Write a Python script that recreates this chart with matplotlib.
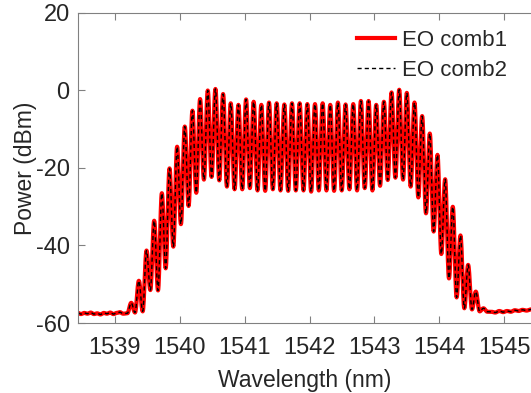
import numpy as np
import matplotlib
matplotlib.use("Agg")
import matplotlib.pyplot as plt

plt.rcParams['font.family'] = ['Liberation Sans', 'DejaVu Sans']
plt.rcParams['axes.unicode_minus'] = False

# ---- data ----
# comb line (peak) wavelengths in nm
line_wl = [1539.254, 1539.372, 1539.490, 1539.608, 1539.726, 1539.844, 1539.961,
           1540.079, 1540.197, 1540.315, 1540.433, 1540.551, 1540.669, 1540.787,
           1540.905, 1541.023, 1541.140, 1541.258, 1541.376, 1541.494, 1541.612,
           1541.730, 1541.848, 1541.966, 1542.084, 1542.202, 1542.319, 1542.437,
           1542.555, 1542.673, 1542.791, 1542.909, 1543.027, 1543.145, 1543.263,
           1543.381, 1543.498, 1543.616, 1543.734, 1543.852, 1543.970, 1544.088,
           1544.206, 1544.324, 1544.442, 1544.560, 1544.678]
# EO comb1 peak powers (dBm)
comb1_peak = [-54.8, -49.1, -41.3, -33.6, -26.5, -20.1, -14.5, -9.3, -5.2, -2.2,
              0.0, 0.4, -0.9, -3.3, -3.7, -2.3, -2.9, -3.7, -3.1, -3.3,
              -3.6, -3.3, -3.3, -3.5, -3.5, -3.3, -3.7, -3.1, -3.6, -3.5,
              -2.7, -2.7, -3.7, -2.9, -0.5, 0.2, -0.6, -3.1, -6.6, -11.1,
              -16.6, -22.9, -30.0, -37.4, -45.0, -51.9, -56.2]
# EO comb1 valley powers after each line (dBm)
comb1_valley = [-57.3, -57.0, -51.5, -51.6, -45.9, -40.3, -34.5, -29.8, -26.4, -23.0,
                -22.3, -23.2, -24.8, -25.5, -25.5, -25.2, -25.8, -25.9, -25.5, -25.8,
                -25.9, -25.8, -25.8, -26.1, -25.8, -25.8, -25.9, -25.8, -25.5, -25.8,
                -25.2, -25.8, -24.6, -23.1, -22.5, -23.0, -24.8, -27.6, -31.7, -36.4,
                -42.2, -48.5, -53.4, -56.2, -56.5, -57.0, -57.1]
# noise floor samples
floor_left_wl = [1538.435, 1538.48, 1538.53, 1538.58, 1538.63, 1538.68, 1538.73,
                 1538.78, 1538.83, 1538.88, 1538.93, 1538.98, 1539.03, 1539.08,
                 1539.13, 1539.195]
floor_left_db = [-57.4, -57.7, -57.4, -57.6, -57.3, -57.7, -57.5, -57.8, -57.4,
                 -57.6, -57.3, -57.7, -57.4, -57.2, -57.6, -57.5]
floor_right_wl = [1544.80, 1544.86, 1544.92, 1544.98, 1545.04, 1545.10, 1545.16,
                  1545.22, 1545.28, 1545.34, 1545.41]
floor_right_db = [-57.1, -57.3, -56.9, -57.2, -56.9, -57.1, -56.7, -56.9, -56.6,
                  -56.8, -56.5]

# EO comb2 coincides with comb1 within the resolution of the figure
comb2_peak = list(comb1_peak)
comb2_valley = list(comb1_valley)


def trace(peaks, valleys):
    ex_x = list(floor_left_wl)
    ex_y = list(floor_left_db)
    for i in range(len(peaks)):
        ex_x.append(line_wl[i]); ex_y.append(peaks[i])
        if i < len(peaks) - 1:
            mid = 0.5 * (line_wl[i] + line_wl[i + 1])
        else:
            mid = line_wl[i] + 0.5 * (line_wl[i] - line_wl[i - 1])
        ex_x.append(mid); ex_y.append(valleys[i])
    ex_x += floor_right_wl
    ex_y += floor_right_db
    xs, ys = [], []
    t = np.linspace(0, 1, 14, endpoint=False)
    for k in range(len(ex_x) - 1):
        s = (1 - np.cos(np.pi * t)) / 2
        xs.append(ex_x[k] + (ex_x[k + 1] - ex_x[k]) * t)
        ys.append(ex_y[k] + (ex_y[k + 1] - ex_y[k]) * s)
    xs.append([ex_x[-1]]); ys.append([ex_y[-1]])
    return np.concatenate(xs), np.concatenate(ys)


x1, y1 = trace(comb1_peak, comb1_valley)
x2, y2 = trace(comb2_peak, comb2_valley)

fig = plt.figure(figsize=(5.31, 3.93), dpi=100)
ax = fig.add_axes([78 / 531, 1 - 323 / 393, 1 - 78 / 531, 310 / 393])

ax.plot(x1, y1, color='#ff0000', lw=3.0, label='EO comb1', solid_joinstyle='round')
ax.plot(x2, y2, color='black', lw=1.0, dashes=(3, 2.2), label='EO comb2')

ax.set_xlim(1538.435, 1545.41)
ax.set_ylim(-60, 20)
ax.set_xticks([1539, 1540, 1541, 1542, 1543, 1544, 1545])
ax.set_yticks([-60, -40, -20, 0, 20])

grey = '#262626'
for sp in ['left', 'bottom', 'top']:
    ax.spines[sp].set_color('#808080')
    ax.spines[sp].set_linewidth(0.8)
ax.spines['right'].set_visible(False)
ax.tick_params(axis='both', direction='in', length=5, width=0.8, color='#808080',
               labelsize=17, labelcolor=grey, top=True, right=False)
ax.tick_params(axis='x', pad=10)
ax.tick_params(axis='y', pad=6)

ax.set_xlabel('Wavelength (nm)', fontsize=16.5, color=grey, labelpad=7)
ax.set_ylabel('Power (dBm)', fontsize=16.5, color=grey, labelpad=-1)

leg = ax.legend(loc='upper right', bbox_to_anchor=(0.985, 1.0), frameon=False,
                fontsize=16, handlelength=1.7, handletextpad=0.35,
                labelspacing=0.4, borderaxespad=0.35)
for t in leg.get_texts():
    t.set_color(grey)

fig.savefig('out.png', dpi=100)
